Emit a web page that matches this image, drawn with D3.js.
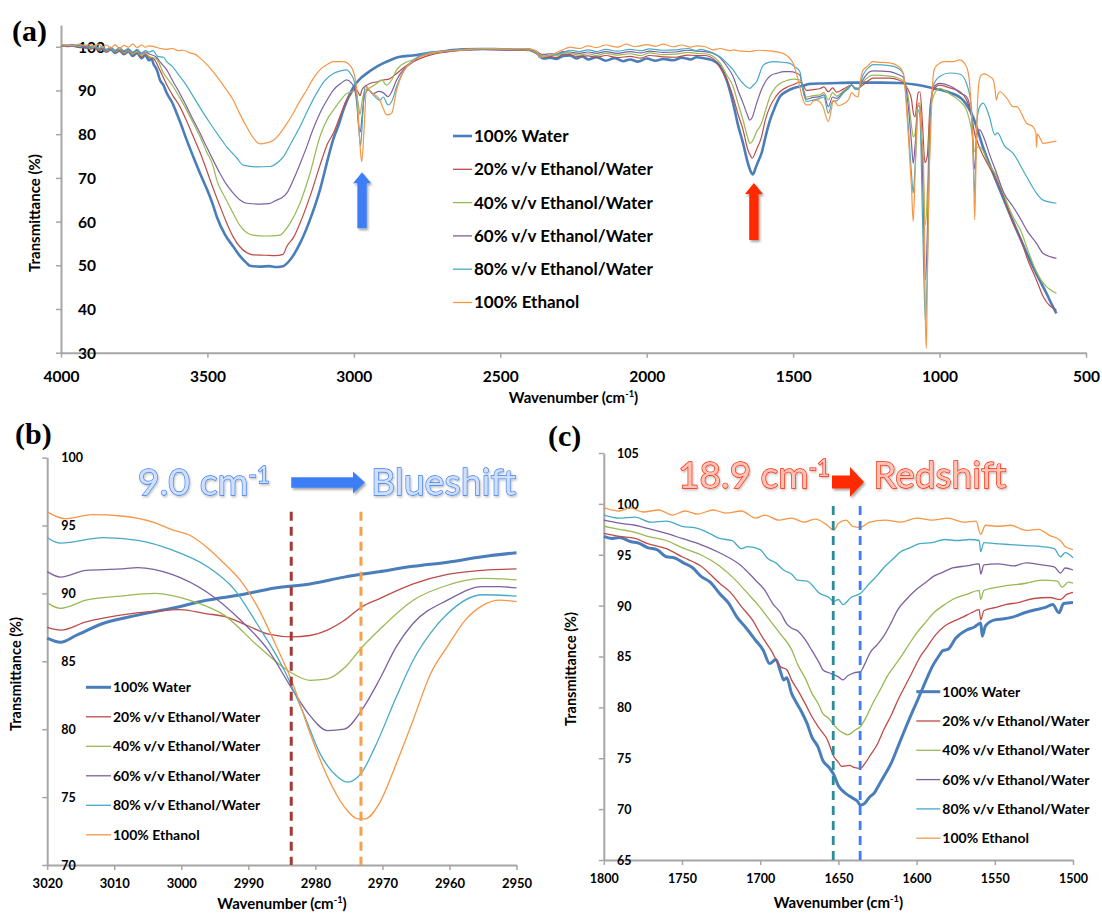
<!DOCTYPE html>
<html><head><meta charset="utf-8">
<script src="https://cdn.jsdelivr.net/npm/d3@7"></script>
<style>
html,body{margin:0;padding:0;background:#fff;}
svg{display:block;font-family:Lato,'Open Sans',sans-serif;}
</style></head><body>
<svg id="chart" width="1102" height="913"></svg>
<script>
// ---------------- DATA ----------------
const seriesNames = ["100% Water","20% v/v Ethanol/Water","40% v/v Ethanol/Water","60% v/v Ethanol/Water","80% v/v Ethanol/Water","100% Ethanol"];
const seriesColors = ["#4a7ebb","#be4b48","#98b954","#7d60a0","#46aac5","#f79646"];

const ticksAx = [4000,3500,3000,2500,2000,1500,1000,500];
const ticksAy = [30,40,50,60,70,80,90,100];
const ticksBx = [3020,3010,3000,2990,2980,2970,2960,2950];
const ticksBy = [70,75,80,85,90,95,100];
const ticksCx = [1800,1750,1700,1650,1600,1550,1500];
const ticksCy = [65,70,75,80,85,90,95,100,105];

// Panel (a): full spectra [wavenumber, transmittance]
const aWater = [[4000,100.4],[3980,100.2],[3960,100.3],[3940,100.0],[3920,99.9],[3900,99.6],[3885,99.9],[3870,99.2],[3860,99.6],[3845,98.9],[3830,99.4],[3815,98.6],[3800,99.1],[3785,98.3],[3770,98.9],[3755,97.9],[3740,98.6],[3725,97.4],[3712,98.1],[3700,96.9],[3690,97.2],[3685,96.2],[3672,94.6],[3662,92.4],[3650,91.2],[3639,89.4],[3620,87.2],[3605,84.8],[3590,82.2],[3571,78.7],[3548,74.8],[3525,71],[3503,67.6],[3480,63.6],[3468,61.1],[3440,57],[3412,54.3],[3390,52.2],[3366,50.5],[3355,49.9],[3320,49.7],[3290,49.8],[3270,49.6],[3242,49.8],[3218,51.2],[3200,53],[3184,55],[3150,60.4],[3116,67.2],[3090,74],[3071,78.7],[3050,82.5],[3036,85.5],[3020,88.2],[3003,90.6],[2980,92.6],[2956,93.9],[2930,95.1],[2901,96.2],[2870,97.1],[2843,97.7],[2800,98],[2740,98.6],[2680,99.1],[2627,99.4],[2560,99.5],[2480,99.4],[2420,99.4],[2399,99.3],[2376,98.6],[2353,97.3],[2330,97.5],[2308,97.2],[2285,97.9],[2262,98],[2240,97.3],[2220,97.8],[2200,97.1],[2171,97.6],[2140,96.8],[2110,97.4],[2080,96.7],[2057,97.1],[2030,96.6],[2000,97.3],[1970,96.8],[1944,97.2],[1910,96.9],[1880,97.5],[1850,97.1],[1830,97.6],[1800,97.3],[1775,96.9],[1750,95.6],[1727,92.4],[1705,87.1],[1688,82],[1671,77.9],[1655,73.5],[1645,71.5],[1637,70.8],[1628,72.3],[1618,74],[1608,75.6],[1594,79.5],[1579,83.2],[1562,86.2],[1545,88.6],[1522,89.8],[1500,90.5],[1470,91],[1443,91.5],[1400,91.6],[1350,91.7],[1300,91.8],[1250,91.8],[1200,91.8],[1136,91.7],[1079,91.3],[1022,90.5],[965,89.5],[920,87.8],[886,84],[852,77.1],[823,72],[794,67.2],[765,62.5],[737,58.1],[709,53.8],[681,49.7],[660,46.8],[635,43.6],[618,41.2],[601,39]];
const a20 = [[4000,100.3],[3980,100.1],[3960,100.4],[3940,99.9],[3920,100.1],[3900,99.5],[3885,99.8],[3870,99.3],[3860,99.7],[3845,98.8],[3830,99.5],[3815,98.7],[3800,99.2],[3785,98.4],[3770,99.0],[3755,98.1],[3740,98.7],[3725,97.6],[3712,98.3],[3700,97.5],[3685,97.3],[3662,94.6],[3639,91.3],[3617,88.7],[3594,86.3],[3571,83],[3548,79.4],[3525,75.8],[3503,71.8],[3480,67.5],[3457,63.5],[3435,59.8],[3412,56.5],[3390,54.3],[3366,52.9],[3345,52.4],[3300,52.3],[3270,52.2],[3242,52.5],[3229,54.3],[3205,56.5],[3184,59.6],[3150,65.7],[3116,72.8],[3090,77.8],[3070,80.2],[3045,84.5],[3025,87.8],[3013,88.8],[2996,90.3],[2985,89.6],[2979,88.8],[2972,90.2],[2956,91.2],[2945,91.6],[2920,92],[2900,92.4],[2880,92.6],[2854,93.9],[2830,95.2],[2797,96.6],[2770,97.4],[2740,98.1],[2680,98.8],[2628,99.2],[2560,99.4],[2480,99.3],[2420,99.2],[2399,99.1],[2376,98.4],[2355,97.6],[2330,97.8],[2308,97.5],[2285,98.3],[2262,98.2],[2240,97.8],[2200,97.9],[2171,97.6],[2140,98.0],[2100,97.5],[2057,97.8],[2020,97.4],[1990,98.0],[1944,97.7],[1900,97.6],[1860,98.1],[1830,98.0],[1800,98],[1775,97.4],[1750,95.4],[1727,92.5],[1705,88.6],[1688,84.5],[1671,81],[1655,76.5],[1645,75],[1640,74.5],[1625,76.5],[1608,79.4],[1594,83.5],[1579,86.3],[1560,88.5],[1545,89.7],[1520,90.8],[1500,91.3],[1477,91.9],[1466,91.2],[1455,90],[1432,90.2],[1409,90.4],[1395,90.8],[1380,89.7],[1365,90.6],[1352,89.6],[1329,90.3],[1310,91],[1300,91.3],[1289,90.6],[1278,90.5],[1261,91.3],[1240,92.4],[1227,92.8],[1170,92.8],[1140,92.4],[1124,91.8],[1107,90.1],[1096,88],[1090,85],[1084,84],[1073,89.5],[1067,89.7],[1058,82],[1050,73.5],[1042,75],[1033,86],[1022,90],[1000,91.2],[965,90.6],[930,89.7],[908,87.8],[891,84.5],[880,80],[872,78.5],[863,76.8],[830,72.5],[805,69.5],[780,65.5],[749,59.6],[720,55.5],[703,52],[669,46.6],[646,42.8],[601,39.8]];
const a40 = [[4000,100.5],[3980,100.2],[3960,100.4],[3940,100.1],[3920,100.2],[3900,99.7],[3885,100],[3870,99.4],[3860,99.9],[3845,99],[3830,99.6],[3815,98.8],[3800,99.4],[3785,98.6],[3770,99.1],[3755,98.3],[3740,98.9],[3725,97.9],[3712,98.5],[3700,97.8],[3674,97.2],[3650,94],[3617,90.9],[3594,88.3],[3571,85.5],[3548,82.5],[3525,79.4],[3503,76],[3480,72.6],[3468,69.5],[3440,65.5],[3412,61.9],[3390,59.2],[3366,57.5],[3345,56.9],[3300,56.7],[3252,56.9],[3235,58],[3218,59.6],[3184,64.2],[3150,71],[3116,79.4],[3090,83.5],[3070,85.5],[3045,87.8],[3025,89.3],[3010,89.6],[2996,90],[2985,87],[2979,84.5],[2972,87.5],[2962,90],[2945,90.6],[2922,91.6],[2905,92.4],[2888,91.2],[2870,92.5],[2854,94.7],[2820,96.5],[2797,97],[2770,97.9],[2740,98.4],[2680,99],[2628,99.3],[2560,99.5],[2480,99.4],[2420,99.3],[2399,99.2],[2376,98.6],[2355,97.9],[2330,98.1],[2308,97.9],[2285,98.6],[2262,98.5],[2230,98.1],[2200,98.4],[2171,98.0],[2140,98.5],[2100,98.1],[2057,98.4],[2020,98.0],[1990,98.6],[1944,98.2],[1900,98.3],[1860,98.7],[1830,98.5],[1800,98.4],[1775,97.9],[1750,96.3],[1727,93.6],[1705,90.9],[1688,87],[1671,83.2],[1655,79.2],[1648,77.9],[1640,78.3],[1625,80.5],[1608,82.5],[1594,85.5],[1579,88.6],[1560,90.7],[1545,91.6],[1520,92.3],[1500,92.6],[1477,92.4],[1466,90.5],[1455,88.5],[1432,88.8],[1409,89],[1395,89.5],[1380,87.8],[1365,89.5],[1352,88.7],[1329,89.8],[1310,90.8],[1300,91.2],[1289,90.5],[1278,90.4],[1261,92],[1240,93.2],[1227,93.5],[1170,93.3],[1140,92.8],[1124,92.2],[1107,88.5],[1096,82],[1090,79.4],[1084,80],[1073,87],[1067,87.1],[1058,75],[1048,59.2],[1040,70],[1033,84],[1022,88.5],[1000,90.5],[965,89.2],[930,87.5],[908,85.5],[891,81],[880,76],[872,77],[863,77.1],[830,73],[805,70.3],[780,66],[749,61.1],[720,57.5],[703,54.3],[669,48.5],[646,45.9],[601,43.6]];
const a60 = [[4000,100.4],[3980,100.3],[3960,100.1],[3940,100.4],[3920,100.0],[3900,99.9],[3885,100.2],[3870,99.5],[3860,100],[3845,99.2],[3830,99.8],[3815,99.0],[3800,99.6],[3785,98.9],[3770,99.4],[3755,98.6],[3740,99.2],[3725,98.3],[3712,98.8],[3700,98.4],[3674,97.6],[3660,96.4],[3639,94.7],[3617,92],[3594,89.3],[3571,86.3],[3548,83.2],[3525,80.2],[3503,77.1],[3480,74],[3457,71],[3435,68.5],[3412,66.5],[3390,65],[3366,64.2],[3320,64],[3290,64.1],[3264,64.9],[3245,65.5],[3229,66.5],[3207,69.5],[3185,73],[3161,77.1],[3140,81],[3116,84.8],[3090,88],[3070,90.1],[3045,91.6],[3025,92.4],[3010,91.8],[2998,90.5],[2990,87],[2983,81.7],[2978,80.5],[2972,84],[2963,89],[2950,90.1],[2934,89.3],[2915,89.8],[2900,89.5],[2883,88.6],[2870,89.8],[2854,92.4],[2830,94.8],[2810,95.9],[2774,97.8],[2740,98.5],[2680,99.1],[2628,99.4],[2560,99.6],[2480,99.5],[2420,99.5],[2399,99.4],[2376,98.9],[2355,98.2],[2330,98.4],[2308,98.3],[2285,98.9],[2262,98.8],[2230,98.5],[2200,98.8],[2171,98.5],[2140,98.9],[2100,98.5],[2057,98.9],[2020,98.6],[1990,99.0],[1944,98.7],[1900,98.8],[1860,99.2],[1830,99.0],[1800,98.9],[1775,98.5],[1750,97.5],[1727,95.6],[1705,93.2],[1688,90],[1671,87.1],[1655,84.2],[1648,83.2],[1640,83.8],[1625,87],[1608,90.2],[1591,92.4],[1575,93.5],[1557,93.9],[1530,94.3],[1511,94.3],[1490,94],[1477,93.5],[1466,90.3],[1455,88],[1432,88.4],[1409,88.6],[1395,89],[1380,86.3],[1365,88.5],[1352,88.2],[1329,89.6],[1310,90.6],[1300,91.2],[1289,90.4],[1278,90.3],[1261,92.5],[1240,94.2],[1227,94.5],[1170,94.3],[1140,93.6],[1124,93],[1107,86.5],[1096,78],[1090,73.3],[1084,77],[1073,86.5],[1067,86],[1058,70],[1048,46.6],[1040,62],[1033,82],[1022,90.5],[1000,91.6],[980,91.4],[950,90.5],[930,89.4],[908,88.6],[891,84],[880,72],[872,80],[863,81],[850,79.4],[830,75.5],[805,71],[780,66.5],[749,63.4],[720,60.2],[703,58.1],[669,55],[646,52.7],[601,51.6]];
const a80 = [[4000,100.5],[3980,100.3],[3960,100.5],[3940,100.2],[3920,100.4],[3900,100.0],[3885,100.3],[3870,99.6],[3860,100.1],[3845,99.4],[3830,99.9],[3815,99.2],[3800,99.8],[3785,99.1],[3770,99.6],[3755,98.8],[3740,99.4],[3725,98.6],[3712,99.1],[3700,98.8],[3686,99.1],[3670,97.8],[3650,97.6],[3639,96.6],[3620,95.5],[3594,93.2],[3570,91],[3548,88.6],[3520,85.5],[3491,82.5],[3460,79.5],[3434,77.1],[3400,74.6],[3378,72.9],[3332,72.5],[3286,72.6],[3260,73.5],[3241,74.8],[3210,78.5],[3184,81.7],[3155,85.8],[3127,89.4],[3100,92.2],[3070,93.9],[3045,94.5],[3025,94.7],[3010,93.7],[3000,92.4],[2991,89],[2983,81],[2977,77.3],[2970,84],[2962,91],[2950,90.2],[2934,89],[2911,87.8],[2900,88.5],[2883,86.7],[2870,87.6],[2854,90.9],[2835,93.8],[2820,95.4],[2774,98],[2740,98.7],[2683,99],[2600,99.5],[2480,99.4],[2420,99.5],[2399,99.4],[2376,98.7],[2365,97.5],[2340,97.9],[2310,98.2],[2285,98.7],[2262,99.2],[2230,98.9],[2200,99.3],[2171,98.9],[2140,99.4],[2100,99.0],[2057,99.4],[2020,99.1],[1990,99.5],[1944,99.2],[1900,99.3],[1860,99.6],[1830,99.1],[1818,99.4],[1790,99.0],[1750,97.7],[1727,96.3],[1705,94.7],[1688,93],[1671,91.6],[1648,90.5],[1636,91.2],[1625,92],[1602,95.8],[1580,96.5],[1568,96.6],[1530,96.4],[1511,96.2],[1494,95.4],[1477,94.3],[1466,89.8],[1455,87.5],[1432,87.8],[1409,88.2],[1395,88.5],[1380,84.8],[1365,87.5],[1352,87.6],[1329,89.4],[1310,90.5],[1300,91.3],[1289,90.3],[1278,90.2],[1261,93.6],[1240,95.4],[1227,95.9],[1170,95.7],[1140,95],[1124,93.8],[1107,82],[1096,71],[1090,66.5],[1084,72],[1073,85.5],[1067,84],[1058,60],[1048,36.7],[1040,55],[1033,80],[1022,91],[1000,93.2],[965,94],[930,93.7],[908,91.6],[891,86],[880,66],[874,82],[863,86.3],[851,87.1],[830,84],[811,79.8],[802,80.3],[780,77.5],[749,75.6],[703,70.3],[669,66.5],[646,64.9],[601,64.2]];
const aEthanol = [[4000,100.5],[3980,100.4],[3960,100.2],[3940,100.6],[3920,100.3],[3900,100.5],[3885,100.1],[3870,100.6],[3860,99.8],[3845,100.4],[3830,99.7],[3815,100.5],[3800,99.6],[3785,100.3],[3770,99.9],[3755,100.6],[3740,99.8],[3725,100.4],[3712,99.9],[3700,100.2],[3686,100.1],[3660,99.6],[3640,99.4],[3620,99.6],[3600,99.1],[3582,99.2],[3560,98.6],[3540,98.2],[3525,97.4],[3500,95.8],[3468,93.2],[3440,90.6],[3412,87.8],[3390,84.7],[3366,81.7],[3345,79.3],[3321,77.8],[3298,78],[3275,78.6],[3252,80.2],[3230,82.3],[3207,84.8],[3185,87.5],[3161,90.1],[3140,92.6],[3116,94.7],[3090,96],[3070,96.6],[3036,96.6],[3013,95.7],[3000,94],[2991,90.9],[2983,82],[2976,75],[2973,73.7],[2966,80],[2956,90.9],[2945,89.8],[2928,89],[2911,87.8],[2900,85.9],[2888,84.4],[2871,84.8],[2854,90.1],[2837,93.5],[2820,95.4],[2797,96.8],[2774,97.7],[2740,98.5],[2706,98.9],[2627,99.3],[2560,99.6],[2480,99.5],[2420,99.6],[2399,99.5],[2376,99],[2365,97.7],[2330,98],[2300,98.9],[2286,99.3],[2262,99.9],[2230,99.6],[2200,100.2],[2171,99.8],[2140,100.4],[2100,99.9],[2070,100.6],[2040,100.0],[2000,100.5],[1970,100.1],[1944,100.6],[1910,100.0],[1880,100.4],[1850,99.9],[1830,100.2],[1800,100.0],[1774,99.3],[1750,99.6],[1716,99.1],[1705,99.3],[1680,99.0],[1648,98.9],[1620,99.2],[1591,99.1],[1560,98.9],[1535,98.5],[1515,97.6],[1500,96.2],[1483,92.4],[1466,87.8],[1455,86.7],[1443,86.7],[1432,87.5],[1420,87.8],[1398,86.3],[1390,84.5],[1380,82.9],[1370,85.5],[1363,87.8],[1345,86.5],[1329,86.9],[1310,88],[1300,89.5],[1289,88.8],[1278,88.5],[1272,91.6],[1261,94.7],[1249,95.4],[1227,96.6],[1215,96.5],[1170,96.3],[1140,95.5],[1124,93.9],[1107,80],[1096,68],[1090,60],[1084,70],[1073,87.1],[1067,86],[1062,80],[1056,75.7],[1052,60],[1048,36],[1045,31],[1042,45],[1036,70],[1033,75.7],[1022,93.2],[1016,95.2],[999,96.2],[988,96.6],[954,96.6],[931,97],[908,95.4],[898,92],[891,84.8],[884,72],[880,60.4],[876,72],[872,84],[866,91.6],[858,93.5],[846,93.8],[830,93.2],[818,92.6],[811,90.5],[806,87.8],[800,89.3],[794,89.7],[770,88.2],[749,86.3],[737,86.3],[703,82.5],[681,81.7],[671,80.3],[669,77],[666,80],[646,77.9],[620,78.2],[601,78.4]];

// Panel (b): 3020-2950 cm-1 region
const bWater = [[3020,86.7],[3018,86.4],[3015.7,86.9],[3011.6,87.8],[3006.5,88.4],[3001.4,88.9],[2996.2,89.5],[2991.1,89.9],[2986,90.4],[2980.8,90.7],[2975.7,91.2],[2970.5,91.6],[2965.4,92],[2960.3,92.3],[2955.1,92.7],[2950,93]];
const b20 = [[3020,87.5],[3018,87.3],[3014.2,87.9],[3009.1,88.4],[3003.9,88.7],[3000.3,88.8],[2996.2,88.5],[2993.6,88.3],[2990,87.6],[2987,87],[2983.4,86.8],[2980.8,86.9],[2978.2,87.3],[2975.7,88],[2973.1,89],[2970.5,89.6],[2965.4,90.7],[2960.3,91.4],[2955.1,91.7],[2950,91.8]];
const b40 = [[3020,89.3],[3018,88.9],[3014.2,89.5],[3009.1,89.8],[3003.9,90],[2998.8,89.5],[2993.6,88.4],[2988.5,86.1],[2983.4,84.1],[2980.8,83.6],[2978.2,83.7],[2975.7,84.5],[2973.1,86],[2970.5,87.3],[2965.4,89.5],[2960.3,90.6],[2955.1,91.1],[2950,91]];
const b60 = [[3020,91.6],[3018,91.2],[3014.2,91.7],[3009.1,91.8],[3006.5,91.9],[3001.4,91.4],[2996.2,90.1],[2991.1,88],[2987,85.8],[2983.4,82.9],[2980.8,81],[2978.2,79.9],[2975.7,80],[2973.1,81.4],[2970.5,83.6],[2967.9,86.1],[2965.4,87.8],[2960.3,89.5],[2955.1,90.5],[2952.5,90.5],[2950,90.4]];
const b80 = [[3020,94.1],[3018,93.7],[3011.6,94.1],[3006.5,93.9],[3001.4,93.2],[2996.2,92],[2992.1,90.3],[2988.5,87.6],[2984.9,84.6],[2981.8,81.2],[2979.3,78.2],[2976.7,76.5],[2975.2,76.1],[2973.1,76.8],[2971.1,78.7],[2967.9,82.4],[2965.4,85.1],[2962.8,87.1],[2960.3,88.5],[2955.1,89.9],[2950,89.8]];
const bEthanol = [[3020,96.0],[3017.3,95.5],[3013.3,95.8],[3009,95.7],[3003.9,95.2],[3001.4,94.7],[2998.8,94.3],[2996.2,93.4],[2993.6,92.2],[2991.1,90.9],[2988.5,88.9],[2986,86.3],[2983.4,83.4],[2980.8,79.7],[2978.2,76.5],[2975.7,74.3],[2973.6,73.4],[2972.6,73.4],[2970.5,74.5],[2967.9,77.5],[2965.4,80.7],[2962.8,84.1],[2960.3,86.1],[2957.7,88],[2955.1,89.1],[2952.5,89.5],[2950,89.4]];

// Panel (c): 1800-1500 cm-1 region
const cWater = [[1800,96.8],[1795,96.6],[1790,96.7],[1783,96.3],[1777,96.1],[1772,95.7],[1766,95.5],[1760,94.8],[1755,94.7],[1749,94.2],[1743,93.7],[1738,92.9],[1732,92.3],[1726,91.2],[1720,90.2],[1715,88.9],[1709,87.8],[1703,86.6],[1698,85.6],[1694,84.3],[1690,84.7],[1687,83.5],[1685,82.7],[1683,82.9],[1680,81.4],[1677,80.5],[1673,79.4],[1670,78.4],[1667,77.1],[1663,76.1],[1660,74.8],[1656,74.1],[1653,73.4],[1650,72.3],[1648,71.9],[1645,71.5],[1641,71.1],[1638,70.8],[1636,70.4],[1633,70.6],[1630,71.2],[1627,71.6],[1624,72.4],[1621,73.2],[1616,74.6],[1612,76.1],[1607,78],[1602,79.8],[1598,81.2],[1593,83],[1590,84],[1586,85],[1583,85.6],[1580,85.7],[1575,86.8],[1568,87.6],[1563,87.9],[1559,88.3],[1558,87.0],[1556,88.0],[1550,88.6],[1544,88.7],[1538,88.9],[1531,89.3],[1524,89.6],[1518,89.8],[1513,90.1],[1509,89.3],[1506,90.2],[1500,90.3]];
const c20 = [[1800,97.1],[1790,96.8],[1780,96.6],[1772,96.1],[1760,95.6],[1750,94.8],[1738,93.9],[1726,92.2],[1719,91.3],[1712,89.9],[1705,88.6],[1699,87],[1693,85.6],[1687,84],[1683,83.7],[1680,82.7],[1676,81.7],[1671,80.3],[1667,79.1],[1662,77.9],[1657,76.8],[1653,75.2],[1650,74.6],[1648,74.2],[1643,74.3],[1640,74.1],[1636,74],[1633,74.5],[1630,75.2],[1625,76.4],[1621,77.8],[1616,79.3],[1612,80.7],[1607,82.2],[1602,83.7],[1598,84.9],[1593,86],[1588,87.1],[1582,88],[1576,88.5],[1570,88.9],[1565,89.3],[1560,89.6],[1559,88.6],[1557,89.5],[1550,89.8],[1543,90.1],[1535,90.3],[1525,90.7],[1515,90.8],[1508,90.6],[1504,91.1],[1500,91.3]];
const c40 = [[1800,97.8],[1790,97.5],[1780,97.2],[1772,96.8],[1760,96.4],[1750,95.7],[1738,95],[1726,93.9],[1717,92.7],[1708,91.2],[1701,90],[1694,88.6],[1687,87.2],[1680,85.7],[1676,84.2],[1671,82.8],[1667,81.4],[1663,80.4],[1660,79.4],[1656,78.9],[1653,78.3],[1650,77.8],[1647,77.5],[1644,77.3],[1639,77.8],[1636,78.1],[1632,79.1],[1628,80.4],[1623,81.8],[1619,83],[1614,84.1],[1609,85.2],[1604,86.4],[1600,87.3],[1594,88.4],[1589,89.3],[1583,90],[1577,90.6],[1568,91.1],[1560,91.5],[1559,90.6],[1557,91.5],[1545,91.9],[1530,92.2],[1520,92.5],[1510,92.4],[1507,91.8],[1503,92.3],[1500,92.2]];
const c60 = [[1800,98.4],[1790,98.1],[1780,97.9],[1772,97.6],[1760,97.1],[1750,96.6],[1738,96],[1726,95.2],[1712,93.9],[1703,92.5],[1697,91.5],[1692,90.2],[1687,89.3],[1683,88.2],[1680,87.8],[1676,87.5],[1671,86.6],[1667,85.6],[1662,84.3],[1660,83.7],[1656,83.4],[1653,83.2],[1650,83],[1647,82.7],[1644,83.1],[1640,83.4],[1636,83.5],[1633,84.3],[1630,85.3],[1625,86.2],[1621,87],[1616,88.4],[1612,89.6],[1606,90.7],[1600,91.6],[1594,92.3],[1589,92.9],[1583,93.3],[1577,93.7],[1568,93.9],[1560,94.1],[1559,93.1],[1557,94.0],[1548,94.1],[1538,93.9],[1530,94.2],[1520,94.0],[1512,93.8],[1508,93.2],[1505,93.7],[1500,93.5]];
const c80 = [[1800,98.9],[1790,98.6],[1780,98.7],[1770,98.2],[1760,98.3],[1750,97.8],[1740,97.6],[1730,96.9],[1726,96.6],[1718,96.4],[1712,95.6],[1708,95.8],[1700,95.5],[1695,94.6],[1690,94.2],[1685,93.5],[1680,93.1],[1676,92.5],[1670,92.4],[1662,91.2],[1656,90.8],[1653,90.4],[1650,90.6],[1647,90.1],[1642,90.8],[1636,91.2],[1630,92.2],[1625,93],[1620,93.9],[1615,94.6],[1611,95.2],[1604,95.7],[1598,96.1],[1590,96.2],[1582,96.5],[1574,96.4],[1566,96.5],[1560,96.4],[1559,95.3],[1557,96.2],[1550,96.1],[1540,96.0],[1530,95.9],[1520,95.8],[1512,95.6],[1508,94.8],[1505,95.2],[1500,94.7]];
const cEthanol = [[1800,99.6],[1790,99.3],[1783,99.6],[1775,99.2],[1765,99.4],[1756,98.9],[1748,99.3],[1740,99.0],[1730,99.4],[1722,99.1],[1712,99.3],[1703,98.6],[1697,98.9],[1688,98.4],[1680,98.6],[1672,98.2],[1665,98.5],[1657,97.9],[1653,97.4],[1650,98.1],[1645,98.4],[1641,97.8],[1636,97.7],[1630,98.2],[1620,98.4],[1610,98.2],[1600,98.6],[1590,98.4],[1580,98.6],[1570,98.2],[1562,98.3],[1559,97.0],[1556,97.9],[1548,97.8],[1540,97.9],[1530,97.4],[1522,97.5],[1515,96.9],[1508,96.4],[1505,95.8],[1500,95.5]];

// Annotation values
const peakShiftB = [2983.6, 2973.2];   // dashed markers panel (b)
const peakShiftC = [1653.3, 1636.1];   // dashed markers panel (c)
const arrowsA = [{v:2972, top:71.3, bottom:58.5}, {v:1634, top:68.8, bottom:55.8}];

// ---------------- DRAWING ----------------
const svg = d3.select("#chart");
const defs = svg.append("defs");
const f = defs.append("filter").attr("id","shadow").attr("x","-30%").attr("y","-30%").attr("width","160%").attr("height","160%");
f.append("feDropShadow").attr("dx",1.5).attr("dy",2).attr("stdDeviation",1.3).attr("flood-color","#000").attr("flood-opacity",0.35);
const f2 = defs.append("filter").attr("id","tshadow").attr("x","-10%").attr("y","-20%").attr("width","120%").attr("height","150%");
f2.append("feDropShadow").attr("dx",1).attr("dy",1.5).attr("stdDeviation",1).attr("flood-color","#000").attr("flood-opacity",0.25);

const AXIS_COLOR = "#a6a6a6";

function styleAxis(g, fontSize){
  g.attr("font-family","Lato, 'Open Sans', sans-serif").attr("font-size",fontSize).attr("font-weight","bold");
  g.select(".domain").attr("stroke",AXIS_COLOR).attr("stroke-width",2);
  g.selectAll(".tick line").attr("stroke",AXIS_COLOR).attr("stroke-width",1.5);
  g.selectAll(".tick text").attr("fill","#000");
}

function wavTitle(x, y, size){
  const t = svg.append("text").attr("x",x).attr("y",y).attr("text-anchor","middle")
    .attr("font-size",size).attr("font-weight","bold").attr("fill","#000");
  t.append("tspan").text("Wavenumber (cm");
  t.append("tspan").attr("font-size",size*0.62).attr("dy",-size*0.4).text("-1");
  t.append("tspan").attr("dy",size*0.4).text(")");
}
function yTitle(x, y, size){
  svg.append("text").attr("transform",`translate(${x},${y}) rotate(-90)`)
    .attr("text-anchor","middle").attr("dy","0.35em")
    .attr("font-size",size).attr("font-weight","bold").attr("fill","#000")
    .text("Transmittance (%)");
}
function panelLabel(txt, x, y){
  svg.append("text").attr("x",x).attr("y",y).attr("font-family","'Liberation Serif','Times New Roman',serif")
    .attr("font-weight","bold").attr("font-size",30).attr("fill","#000").text(txt);
}

function drawPanel(cfg){
  const {x, y, series, wWater, wOther, xTicks, yTicks, xLabOff, yLabOff, xFont, yFont} = cfg;
  const xAxis = d3.axisBottom(x).tickValues(xTicks).tickSize(5).tickSizeOuter(0).tickFormat(d3.format("d"));
  const yAxis = d3.axisLeft(y).tickValues(yTicks).tickSize(5).tickSizeOuter(0).tickFormat(d3.format("d"));
  const gx = svg.append("g").attr("transform",`translate(0,${y.range()[0]})`).call(xAxis);
  styleAxis(gx, xFont);
  gx.selectAll(".tick text").attr("y", xLabOff).attr("dy","0.35em");
  const gy = svg.append("g").attr("transform",`translate(${x.range()[0]},0)`).call(yAxis);
  styleAxis(gy, yFont);
  gy.attr("text-anchor","start");
  gy.selectAll(".tick text").attr("x", yLabOff).attr("dy","0.35em");
  const line = d3.line().x(d=>x(d[0])).y(d=>y(d[1])).curve(d3.curveMonotoneX);
  const gl = svg.append("g");
  series.forEach((s,i)=>{
    gl.append("path").attr("d", line(s)).attr("fill","none")
      .attr("stroke", seriesColors[i]).attr("stroke-width", i===0 ? wWater : wOther)
      .attr("stroke-linejoin","round");
  });
}

function drawLegend(x0, x1, y0, step, fontSize, wWater, wOther){
  const g = svg.append("g");
  seriesNames.forEach((n,i)=>{
    const yy = y0 + i*step;
    g.append("line").attr("x1",x0).attr("x2",x1).attr("y1",yy).attr("y2",yy)
      .attr("stroke",seriesColors[i]).attr("stroke-width", i===0 ? wWater : wOther);
    g.append("text").attr("x",x1+2).attr("y",yy).attr("dy","0.35em")
      .attr("font-size",fontSize).attr("font-weight","bold").attr("fill","#000").text(n);
  });
}

// ---- Panel (a)
const xA = d3.scaleLinear().domain([4000,500]).range([61,1086]);
const yA = d3.scaleLinear().domain([30,105]).range([352.7,24.9]);
drawPanel({x:xA, y:yA, series:[aWater,a20,a40,a60,a80,aEthanol], wWater:2.6, wOther:1.2,
  xTicks:ticksAx, yTicks:ticksAy, xLabOff:24, yLabOff:17, xFont:15.5, yFont:15.5});
drawLegend(453, 472, 136, 33.3, 17, 2.6, 1.3);
wavTitle(573.5, 402.5, 15);
yTitle(35, 213, 15);
panelLabel("(a)", 12, 41);

// vertical arrows in (a)
const arrowColors = ["#3d7ef7","#ff2a00"];
arrowsA.forEach((a,i)=>{
  const cx = xA(a.v), yt = yA(a.top), yb = yA(a.bottom);
  const sw = 4.7, hw = 9, hh = 11;
  const p = `M${cx},${yt} L${cx+hw},${yt+hh} L${cx+sw},${yt+hh} L${cx+sw},${yb} L${cx-sw},${yb} L${cx-sw},${yt+hh} L${cx-hw},${yt+hh} Z`;
  svg.append("path").attr("d",p).attr("fill",arrowColors[i]).attr("filter","url(#shadow)");
});

// ---- Panel (b)
const xB = d3.scaleLinear().domain([3020,2950]).range([47.2,516.5]);
const yB = d3.scaleLinear().domain([70,100]).range([865,457.6]);
drawPanel({x:xB, y:yB, series:[bWater,b20,b40,b60,b80,bEthanol], wWater:3, wOther:1.3,
  xTicks:ticksBx, yTicks:ticksBy, xLabOff:18.3, yLabOff:14, xFont:13, yFont:12.5});
drawLegend(86, 111, 687.3, 29.5, 14, 3, 1.3);
wavTitle(282, 908.5, 15);
yTitle(15.5, 674, 14.5);
panelLabel("(b)", 15, 444);
const dashColorsB = ["#a33a35","#f6a048"];
peakShiftB.forEach((v,i)=>{
  svg.append("line").attr("x1",xB(v)).attr("x2",xB(v)).attr("y1",511.7).attr("y2",yB(70))
    .attr("stroke",dashColorsB[i]).attr("stroke-width",3).attr("stroke-dasharray","9,6");
});
// horizontal arrow (b)
{
  const x0 = xB(2983.6), x1 = xB(2972.6), cy = 482.5, sh = 5.3, hh = 11, hl = 12;
  const p = `M${x0},${cy-sh} L${x1-hl},${cy-sh} L${x1-hl},${cy-hh} L${x1},${cy} L${x1-hl},${cy+hh} L${x1-hl},${cy+sh} L${x0},${cy+sh} Z`;
  svg.append("path").attr("d",p).attr("fill","#3d7ef7").attr("filter","url(#shadow)");
}
function outlineText(x, y, main, sup, fill, stroke, size){
  const t = svg.append("text").attr("x",x).attr("y",y).attr("font-family","Lato, 'Open Sans', sans-serif")
    .attr("font-size",size).attr("fill",fill).attr("stroke",stroke).attr("stroke-width",1.3)
    .attr("paint-order","stroke").attr("filter","url(#tshadow)");
  t.append("tspan").text(main);
  if(sup){ t.append("tspan").attr("font-size",size*0.6).attr("dy",-size*0.33).text(sup); }
}
outlineText(137.7, 495, "9.0 cm", "-1", "#cfe0ff", "#3a7bf2", 37.5);
outlineText(371, 495, "Blueshift", null, "#cfe0ff", "#3a7bf2", 37.5);

// ---- Panel (c)
const xC = d3.scaleLinear().domain([1800,1500]).range([603.8,1073]);
const yC = d3.scaleLinear().domain([65,105]).range([860,453]);
drawPanel({x:xC, y:yC, series:[cWater,c20,c40,c60,c80,cEthanol], wWater:3, wOther:1.3,
  xTicks:ticksCx, yTicks:ticksCy, xLabOff:18.3, yLabOff:13.2, xFont:12.5, yFont:12.5});
drawLegend(916.3, 940.3, 691.7, 29.3, 14, 3, 1.3);
wavTitle(838.4, 907.5, 15);
yTitle(570.5, 669, 14.5);
panelLabel("(c)", 548, 445.6);
const dashColorsC = ["#2e8b9a","#3d7ef7"];
peakShiftC.forEach((v,i)=>{
  svg.append("line").attr("x1",xC(v)).attr("x2",xC(v)).attr("y1",506).attr("y2",yC(65))
    .attr("stroke",dashColorsC[i]).attr("stroke-width",2.8).attr("stroke-dasharray","9,6");
});
{
  const x0 = 832, x1 = 864, cy = 482, sh = 6.5, hh = 15, hl = 14;
  const p = `M${x0},${cy-sh} L${x1-hl},${cy-sh} L${x1-hl},${cy-hh} L${x1},${cy} L${x1-hl},${cy+hh} L${x1-hl},${cy+sh} L${x0},${cy+sh} Z`;
  svg.append("path").attr("d",p).attr("fill","#ff2a00").attr("filter","url(#shadow)");
}
outlineText(678, 488.3, "18.9 cm", "-1", "#ffc4b6", "#ff2200", 37);
outlineText(873.3, 488.3, "Redshift", null, "#ffc4b6", "#ff2200", 37);
</script>
</body></html>
